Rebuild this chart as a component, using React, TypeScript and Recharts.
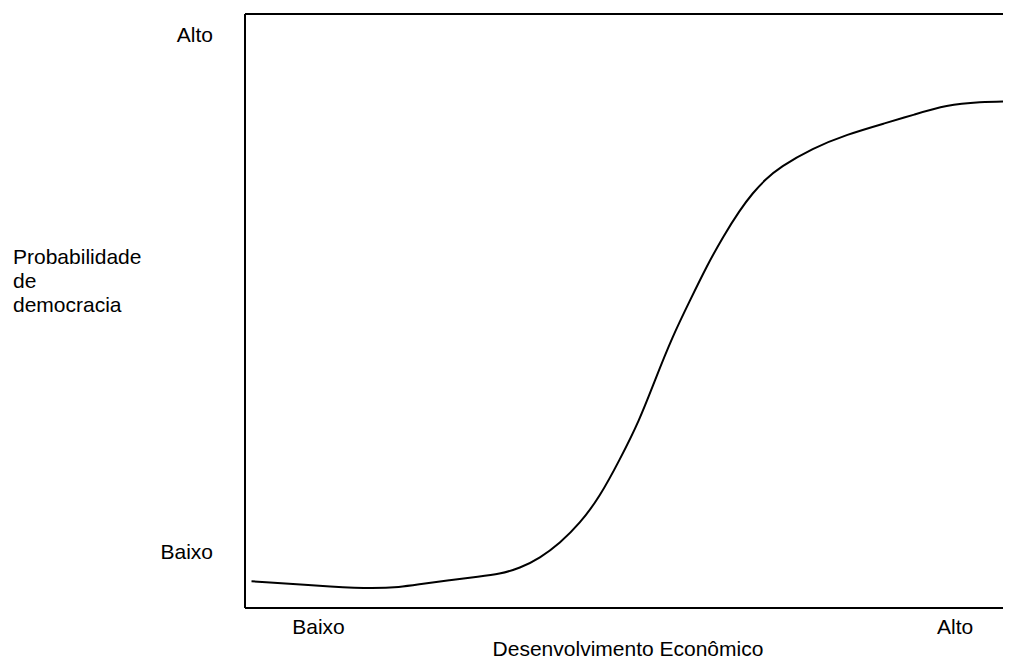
import React from "react";
import { LineChart, Line, XAxis, YAxis, ReferenceLine } from "recharts";

// curve: x = economic development, y = probability (0-100)
const devLevel = [
  0.85, 12.3, 16.7, 20.2, 22.8, 26.7, 30.6, 33.2, 35.9, 38.5, 41.1, 43.7, 46.3,
  48.9, 51.5, 53.5, 55.8, 58.1, 60.3, 62.4, 64.6, 66.3, 67.9, 69.8, 74.1, 78.5,
  83.8, 87.2, 91.6, 96.0, 99.9,
];
const democracyProb = [
  4.5, 3.5, 3.3, 3.5, 4.0, 4.7, 5.3, 5.7, 6.7, 8.4, 10.9, 14.2, 18.7, 24.9,
  31.6, 38.3, 45.7, 51.8, 57.6, 62.5, 67.0, 69.9, 72.1, 74.2, 77.4, 79.7, 81.7,
  83.0, 84.7, 85.2, 85.3,
];

const xTicks = [9.6, 92.7];
const xTickLabels = ["Baixo", "Alto"];
const yTicks = [9.4, 96.4];
const yTickLabels = ["Baixo", "Alto"];

const xTitle = "Desenvolvimento Econômico";
const yTitleLines = ["Probabilidade", "de", "democracia"];

const data = devLevel.map((x, i) => ({ x, y: democracyProb[i] }));

const FONT = "'Liberation Sans', Arial, sans-serif";
const FS = 21;

export default function App() {
  return (
    <div style={{ width: 1003, height: 651, fontFamily: FONT }}>
      <LineChart
        width={1003}
        height={651}
        data={data}
        margin={{ top: 6, right: 0, left: 0, bottom: 1 }}
      >
        <XAxis
          type="number"
          dataKey="x"
          domain={[0, 100]}
          ticks={xTicks}
          height={50}
          axisLine={{ stroke: "#000", strokeWidth: 2 }}
          tickLine={false}
          tick={(props: any) => (
            <text
              x={props.x}
              y={626}
              textAnchor="middle"
              fontSize={FS}
              fontFamily={FONT}
              fill="#000"
            >
              {xTickLabels[props.index]}
            </text>
          )}
          label={{
            content: ({ viewBox }: any) => (
              <text
                x={viewBox.x + viewBox.width / 2}
                y={648}
                textAnchor="middle"
                fontSize={FS}
                fontFamily={FONT}
                fill="#000"
              >
                {xTitle}
              </text>
            ),
          }}
        />
        <YAxis
          type="number"
          domain={[0, 100]}
          ticks={yTicks}
          width={237}
          axisLine={{ stroke: "#000", strokeWidth: 2 }}
          tickLine={false}
          allowDataOverflow
          tick={(props: any) => (
            <text
              x={205}
              y={props.y + 7}
              textAnchor="end"
              fontSize={FS}
              fontFamily={FONT}
              fill="#000"
            >
              {yTickLabels[props.index]}
            </text>
          )}
          label={{
            content: () => (
              <text x={5} fontSize={FS} fontFamily={FONT} fill="#000">
                {yTitleLines.map((t, i) => (
                  <tspan key={t} x={5} y={256.3 + i * 23.7}>
                    {t}
                  </tspan>
                ))}
              </text>
            ),
          }}
        />
        <ReferenceLine y={100} stroke="#000" strokeWidth={2} />
        <Line
          type="basis"
          dataKey="y"
          stroke="#000"
          strokeWidth={2}
          dot={false}
          isAnimationActive={false}
        />
      </LineChart>
    </div>
  );
}
